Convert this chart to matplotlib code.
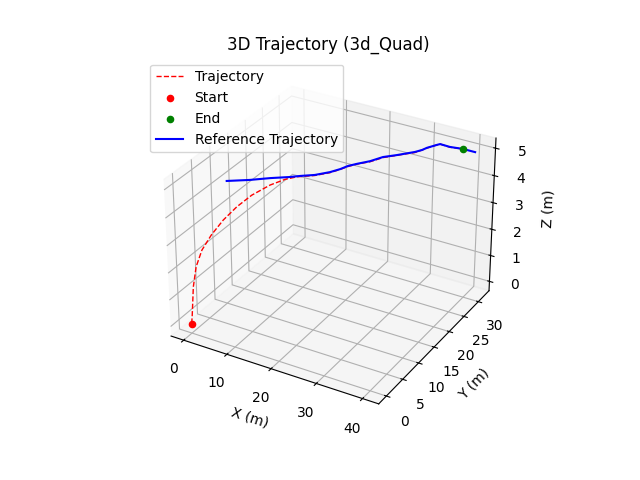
import matplotlib
matplotlib.use("Agg")  # só salva o PNG
import matplotlib.pyplot as plt

# Trajetória de referência (x, y, z em metros)
REF_X = [1.4, 5.0, 8.2, 11.3, 12.9, 15.2, 17.6, 19.2, 20.4, 21.8, 23.9,
         25.9, 28.1, 29.0, 30.6, 31.4, 31.8, 32.9, 33.3, 35.5, 38.1, 40.5]
REF_Y = [9.2, 11.3, 13.1, 14.9, 15.8, 17.1, 18.4, 19.3, 20.1, 20.9, 22.0,
         23.2, 24.4, 25.1, 26.6, 27.7, 28.7, 30.3, 30.8, 30.7, 31.1, 31.5]
REF_Z = [4.37, 4.36, 4.39, 4.39, 4.41, 4.42, 4.50, 4.59, 4.68, 4.74, 4.82,
         4.94, 4.99, 5.00, 5.00, 5.00, 5.00, 5.00, 5.00, 5.00, 5.00, 4.95]

# Trajetória percorrida pelo quadrotor: decola e converge para a referência
TRAJ_X = [0.0, 0.1, 0.4, 0.8, 1.5, 2.6, 4.0, 5.6, 7.3, 9.4, 11.1, 12.5,
          15.2, 17.6, 19.2, 20.4, 21.8, 23.9, 25.9, 28.1, 29.0, 30.6,
          31.4, 31.8, 32.9, 33.3, 35.5, 38.11]
TRAJ_Y = [0.0, 0.1, 0.4, 0.9, 1.8, 3.2, 4.9, 6.8, 8.9, 11.5, 13.6, 15.3,
          17.1, 18.4, 19.3, 20.1, 20.9, 22.0, 23.2, 24.4, 25.1, 26.6,
          27.7, 28.7, 30.3, 30.8, 30.7, 31.09]
TRAJ_Z = [0.0, 0.25, 1.36, 2.07, 2.62, 3.08, 3.51, 3.87, 4.15, 4.35, 4.42, 4.41,
          4.40, 4.48, 4.58, 4.66, 4.73, 4.80, 4.92, 4.98, 4.99, 4.98,
          5.00, 4.99, 5.00, 5.00, 4.99, 5.00]

fig = plt.figure(figsize=(6.4, 4.8), dpi=100)
ax = fig.add_subplot(projection="3d")
ax.plot(TRAJ_X, TRAJ_Y, TRAJ_Z, "r--", linewidth=1, label="Trajectory")
ax.scatter(TRAJ_X[0], TRAJ_Y[0], TRAJ_Z[0], color="red", label="Start")
ax.scatter(TRAJ_X[-1], TRAJ_Y[-1], TRAJ_Z[-1], color="green", label="End")
ax.plot(REF_X, REF_Y, REF_Z, "b-", label="Reference Trajectory")
ax.set_xlabel("X (m)")
ax.set_ylabel("Y (m)")
ax.set_zlabel("Z (m)")
ax.set_title("3D Trajectory (3d_Quad)")
ax.legend(loc="upper left")
fig.savefig("out.png")
